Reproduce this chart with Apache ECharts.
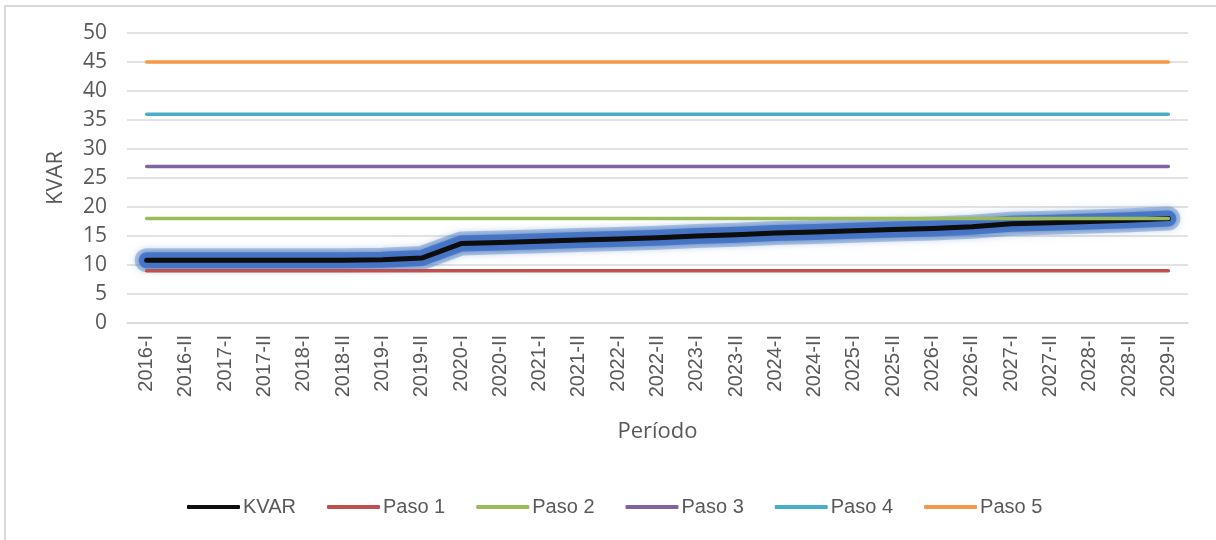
<!DOCTYPE html>
<html>
<head>
<meta charset="utf-8">
<script src="https://cdn.jsdelivr.net/npm/echarts@6/dist/echarts.min.js"></script>
<style>
html,body{margin:0;padding:0;background:#fff;}
#frame{position:absolute;left:4px;top:5px;width:1230px;height:560px;border:2px solid #d9d9d9;box-sizing:border-box;}
#chart{position:absolute;left:0;top:0;width:1216px;height:540px;}
</style>
</head>
<body>
<div id="frame"></div>
<div id="chart"></div>
<script>
const categories = ["2016-I","2016-II","2017-I","2017-II","2018-I","2018-II","2019-I","2019-II","2020-I","2020-II","2021-I","2021-II","2022-I","2022-II","2023-I","2023-II","2024-I","2024-II","2025-I","2025-II","2026-I","2026-II","2027-I","2027-II","2028-I","2028-II","2029-II"];
const kvar = [10.8,10.8,10.8,10.8,10.8,10.8,10.9,11.2,13.7,13.9,14.1,14.3,14.5,14.7,15.0,15.2,15.5,15.7,15.9,16.1,16.3,16.6,17.1,17.3,17.5,17.7,18.0];
const paso1 = 9, paso2 = 18, paso3 = 27, paso4 = 36, paso5 = 45;
const yTicks = {min:0, max:50, interval:5};

const flat = v => categories.map(() => v);
const chart = echarts.init(document.getElementById('chart'));
const pasoSeries = (name, v, color) => ({
  name, type:'line', data:flat(v), symbol:'none', color, z:3,
  lineStyle:{width:3.5, color, cap:'round'}, emphasis:{disabled:true}
});
const glow = (name, width, color, blur) => ({
  name, type:'line', data:kvar, symbol:'none', silent:true, z:1,
  lineStyle:{width, color, cap:'round', join:'round', shadowBlur:blur, shadowColor:color}
});
chart.setOption({
  animation:false,
  grid:{left:127, right:28, top:33, bottom:217},
  legend:{
    data:['KVAR','Paso 1','Paso 2','Paso 3','Paso 4','Paso 5'],
    left:182, top:492, itemWidth:53, itemHeight:4, itemGap:31,
    icon:'roundRect',
    textStyle:{fontFamily:'"Liberation Sans Narrow","Liberation Sans",sans-serif', fontSize:20, color:'#595959', padding:[0,0,0,-2]}
  },
  xAxis:{
    type:'category', data:categories, boundaryGap:true,
    name:'Período', nameLocation:'middle', nameGap:98,
    nameTextStyle:{fontFamily:'"Open Sans",sans-serif', fontSize:22, color:'#595959'},
    axisLine:{lineStyle:{color:'#d9d9d9', width:1.5}},
    axisTick:{show:false},
    axisLabel:{rotate:90, interval:0, margin:12, fontFamily:'"Liberation Sans",Arial,sans-serif', fontSize:20, color:'#595959'}
  },
  yAxis:{
    type:'value', min:yTicks.min, max:yTicks.max, interval:yTicks.interval,
    name:'KVAR', nameLocation:'middle', nameGap:60, nameRotate:90,
    nameTextStyle:{fontFamily:'"Open Sans",sans-serif', fontSize:22, color:'#595959'},
    axisLine:{show:false}, axisTick:{show:false},
    axisLabel:{margin:20, fontFamily:'"Open Sans",sans-serif', fontSize:21, color:'#595959'},
    splitLine:{lineStyle:{color:'#d9d9d9', width:1.5}}
  },
  series:[
    glow('KVAR glow outer', 24, 'rgba(79,129,189,0.4)', 10),
    glow('KVAR glow inner', 16, 'rgba(68,114,196,0.9)', 6),
    {name:'KVAR', type:'line', data:kvar, symbol:'none', color:'#0d0d0d', z:2,
     lineStyle:{width:5, color:'#0d0d0d', cap:'round', join:'round'}, emphasis:{disabled:true}},
    pasoSeries('Paso 1', paso1, '#c0504d'),
    pasoSeries('Paso 2', paso2, '#9bbb59'),
    pasoSeries('Paso 3', paso3, '#8064a2'),
    pasoSeries('Paso 4', paso4, '#4bacc6'),
    pasoSeries('Paso 5', paso5, '#f79646')
  ]
});
</script>
</body>
</html>
